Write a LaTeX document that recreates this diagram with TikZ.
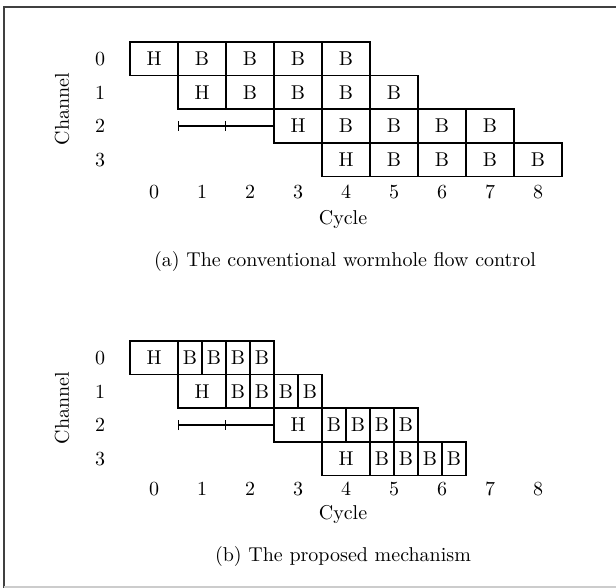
\documentclass[tikz,border=0pt]{standalone}
\usepackage{graphicx}
\usetikzlibrary{arrows.meta}
% text set in the 10pt design and enlarged
\newcommand\bigtxt[1]{\scalebox{2}{#1}}
\begin{document}
\begin{tikzpicture}[x=1pt,y=-1pt,
  every node/.style={font=\fontsize{10}{12}\selectfont, inner sep=0pt},
  cell/.style={draw, line width=1.6pt, minimum width=48pt, minimum height=33.6pt, outer sep=0pt},
  half/.style={cell, minimum width=24pt},
  waitbar/.style={line width=1.2pt, {Bar[width=10pt]}-{Bar[width=10pt]}},
  waitline/.style={line width=1.2pt},
  frameline/.style={line width=1.5pt, black!75}]
\useasboundingbox (0,0) rectangle (616,588);
% frame
\draw[frameline] (616,7) -- (4,7) -- (4,588);
\draw[line width=1.2pt, black!20] (4,587) -- (616,587);

% ---------------- (a) conventional wormhole flow control ----------------
\foreach \r/\y in {0/58.8,1/92.4,2/126,3/159.6}
  \node (ach\r) at (100,\y) {\bigtxt{\r}};
\node[rotate=90] (achan) at (62,109) {\bigtxt{Channel}};
\foreach \k in {0,...,8}
  \node (acy\k) at (154+48*\k,192) {\bigtxt{\k}};
\node (acycle) at (343,220) {\bigtxt{Cycle}};
\node (acap) at (345,262) {\bigtxt{(a) The conventional wormhole flow control}};

% row 0
\node[cell] (a0c0) at (154,58.8) {\bigtxt{H}};
\foreach \k in {1,...,4} \node[cell] (a0c\k) at (154+48*\k,58.8) {\bigtxt{B}};
% row 1
\node[cell] (a1c1) at (202,92.4) {\bigtxt{H}};
\foreach \k in {2,...,5} \node[cell] (a1c\k) at (154+48*\k,92.4) {\bigtxt{B}};
% row 2
\node[cell] (a2c3) at (298,126) {\bigtxt{H}};
\foreach \k in {4,...,7} \node[cell] (a2c\k) at (154+48*\k,126) {\bigtxt{B}};
\coordinate (a2s) at (178,126);
\coordinate (a2m) at (226,126);
\draw[waitbar] (a2s) -- (a2m);
\draw[waitline] (a2m) -- (a2c3.west);
% row 3
\node[cell] (a3c4) at (346,159.6) {\bigtxt{H}};
\foreach \k in {5,...,8} \node[cell] (a3c\k) at (154+48*\k,159.6) {\bigtxt{B}};

% ---------------- (b) proposed mechanism ----------------
\foreach \r/\y in {0/357.8,1/391.4,2/425,3/458.6}
  \node (bch\r) at (100,\y) {\bigtxt{\r}};
\node[rotate=90] (bchan) at (62,408) {\bigtxt{Channel}};
\foreach \k in {0,...,8}
  \node (bcy\k) at (154+48*\k,489) {\bigtxt{\k}};
\node (bcycle) at (343,514) {\bigtxt{Cycle}};
\node (bcap) at (343,556) {\bigtxt{(b) The proposed mechanism}};

% row 0
\node[cell] (b0h) at (154,357.8) {\bigtxt{H}};
\foreach \i in {0,...,3} \node[half] (b0b\i) at (190+24*\i,357.8) {\bigtxt{B}};
% row 1
\node[cell] (b1h) at (202,391.4) {\bigtxt{H}};
\foreach \i in {0,...,3} \node[half] (b1b\i) at (238+24*\i,391.4) {\bigtxt{B}};
% row 2
\node[cell] (b2h) at (298,425) {\bigtxt{H}};
\foreach \i in {0,...,3} \node[half] (b2b\i) at (334+24*\i,425) {\bigtxt{B}};
\coordinate (b2s) at (178,425);
\coordinate (b2m) at (226,425);
\draw[waitbar] (b2s) -- (b2m);
\draw[waitline] (b2m) -- (b2h.west);
% row 3
\node[cell] (b3h) at (346,458.6) {\bigtxt{H}};
\foreach \i in {0,...,3} \node[half] (b3b\i) at (382+24*\i,458.6) {\bigtxt{B}};
\end{tikzpicture}
\end{document}
